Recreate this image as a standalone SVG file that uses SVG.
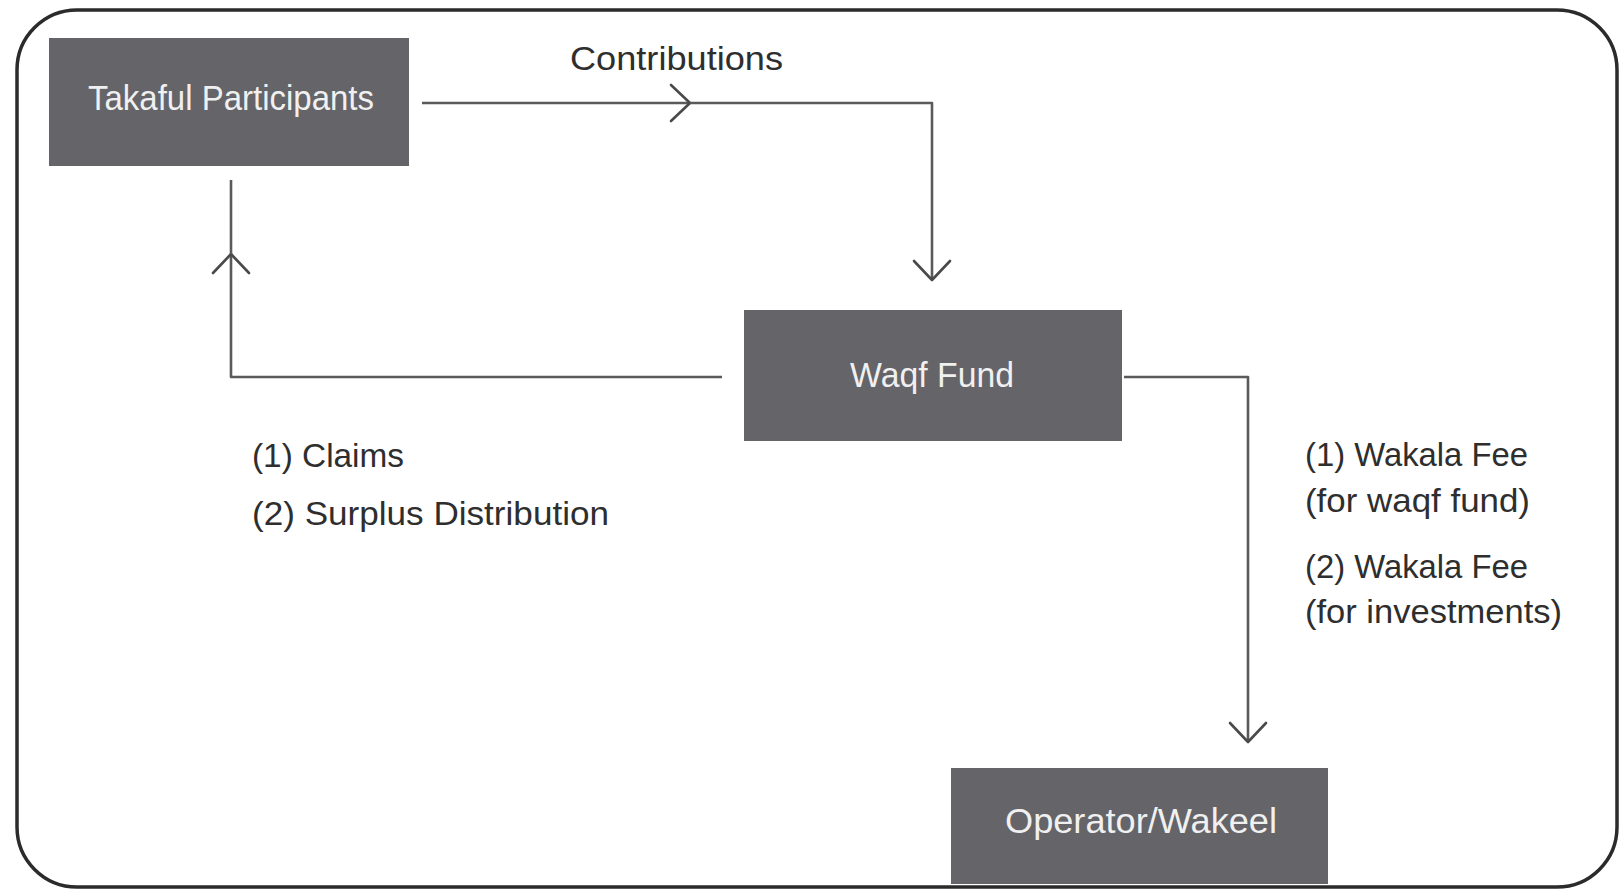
<svg xmlns="http://www.w3.org/2000/svg" width="1621" height="891" viewBox="0 0 1621 891">
<style>
.box{fill:#646469;}
.btxt{fill:#f0f0f0;font-family:"Liberation Sans",Arial,sans-serif;font-size:35px;}
.lbl{fill:#2e2e2e;font-family:"Liberation Sans",Arial,sans-serif;font-size:34px;}
.conn{fill:none;stroke:#5a5a5a;stroke-width:2.6;stroke-linejoin:round;}
</style>
<defs>
<marker id="chev" viewBox="-22 -20 24 40" refX="0" refY="0" markerWidth="24" markerHeight="40" markerUnits="userSpaceOnUse" orient="auto" overflow="visible">
<path d="M-19,-18 L0,0 L-19,18" fill="none" stroke="#4a4a4a" stroke-width="2.6" stroke-linejoin="round" stroke-linecap="round"/>
</marker>
</defs>
<rect x="0" y="0" width="1621" height="891" fill="#ffffff"/>
<rect id="frame" x="17" y="10" width="1600" height="877" rx="60" ry="60" fill="none" stroke="#2b2b2b" stroke-width="3.5"/>
<g id="connectors">
<path class="conn" d="M422,103 L690,103" marker-end="url(#chev)"/>
<path class="conn" d="M690,103 L932,103 L932,280" marker-end="url(#chev)"/>
<path class="conn" d="M722,377 L231,377 L231,254" marker-end="url(#chev)"/>
<path class="conn" d="M231,254 L231,180"/>
<path class="conn" d="M1124,377 L1248,377 L1248,742" marker-end="url(#chev)"/>
</g>
<g id="takaful">
<rect class="box" x="49" y="38" width="360" height="128"/>
<text class="btxt" x="88" y="110" textLength="286" lengthAdjust="spacingAndGlyphs">Takaful Participants</text>
</g>
<g id="waqf">
<rect class="box" x="744" y="310" width="378" height="131"/>
<text class="btxt" x="850" y="387" textLength="164" lengthAdjust="spacingAndGlyphs">Waqf Fund</text>
</g>
<g id="operator">
<rect class="box" x="951" y="768" width="377" height="116"/>
<text class="btxt" x="1005" y="833" textLength="272" lengthAdjust="spacingAndGlyphs">Operator/Wakeel</text>
</g>
<g id="labels">
<text class="lbl" x="570" y="70" textLength="213" lengthAdjust="spacingAndGlyphs">Contributions</text>
<text class="lbl" x="252" y="467" textLength="152" lengthAdjust="spacingAndGlyphs">(1) Claims</text>
<text class="lbl" x="252" y="525" textLength="357" lengthAdjust="spacingAndGlyphs">(2) Surplus Distribution</text>
<text class="lbl" x="1305" y="466" textLength="223" lengthAdjust="spacingAndGlyphs">(1) Wakala Fee</text>
<text class="lbl" x="1305" y="512" textLength="225" lengthAdjust="spacingAndGlyphs">(for waqf fund)</text>
<text class="lbl" x="1305" y="578" textLength="223" lengthAdjust="spacingAndGlyphs">(2) Wakala Fee</text>
<text class="lbl" x="1305" y="623" textLength="257" lengthAdjust="spacingAndGlyphs">(for investments)</text>
</g>
</svg>
